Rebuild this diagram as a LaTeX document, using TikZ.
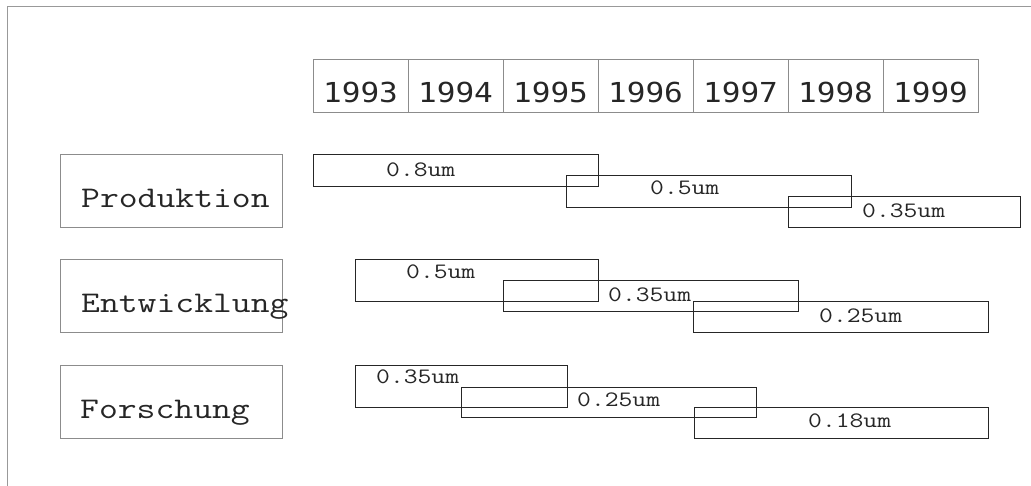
\documentclass[tikz,border=0pt]{standalone}
\usepackage{fontspec}
\newfontfamily\monof[FakeStretch=1.22]{Latin Modern Mono}
\newfontfamily\yearf[FakeStretch=1.13]{DejaVu Sans Mono}
\begin{document}
\begin{tikzpicture}[x=1pt,y=-1pt,
  frameline/.style={draw=black!40, line width=1pt},
  cell/.style={draw=black!45, line width=1pt, minimum width=95pt, minimum height=53pt, anchor=north west, inner sep=0pt, outer sep=0pt},
  yeartext/.style={font=\yearf\fontsize{27.5}{28}\selectfont, text=black!85, inner sep=0pt, anchor=base},
  catbox/.style={draw=black!45, line width=1pt, minimum width=222pt, minimum height=73pt, anchor=north west, inner sep=0pt, outer sep=0pt},
  cattext/.style={font=\monof\fontsize{30}{30}\selectfont, text=black!85, inner sep=0pt, anchor=base west},
  barbox/.style={draw=black!85, line width=1pt, anchor=north west, inner sep=0pt, outer sep=0pt},
  bartext/.style={font=\monof\fontsize{22}{22}\selectfont, text=black!85, inner sep=0pt, anchor=base west}]
\useasboundingbox (0,0) rectangle (1031,486);
% frame
\coordinate (ftl) at (7,7);
\coordinate (ftr) at (1031,7);
\coordinate (fbl) at (7,486);
\draw[frameline] (ftr) -- (ftl) -- (fbl);
% years
\foreach \y [count=\i from 0] in {1993,1994,1995,1996,1997,1998,1999}{
  \node[cell] (c\y) at ({313+95*\i},60) {};
  \node[yeartext] (t\y) at ([yshift=10pt]c\y.south) {\y};
}
% categories
\node[catbox] (prod) at (60,155) {};
\node[cattext] (prodt) at (81,208) {Produktion};
\node[catbox] (entw) at (60,260) {};
\node[cattext] (entwt) at (81,313) {Entwicklung};
\node[catbox] (forsch) at (60,365) {};
\node[cattext] (forscht) at (80,418) {Forschung};
% bars
\foreach \n/\xa/\ya/\xb/\yb/\tx/\ty/\lab in {
  pa/313/155/598/187/386/177/0.8um,
  pb/566/176/851/208/650/195/0.5um,
  pc/788/197/1020/228/862/218/0.35um,
  ea/355/260/598/302/406/279/0.5um,
  eb/503/281/798/312/608/302/0.35um,
  ec/693/302/988/333/819/323/0.25um,
  fa/355/365/567/407/376/384/0.35um,
  fb/461/387/756/417/577/406/0.25um,
  fc/694/407/988/438/808/427/0.18um}{
  \node[barbox, minimum width={(\xb-\xa)*1pt}, minimum height={(\yb-\ya)*1pt}] (\n) at (\xa,\ya) {};
  \node[bartext] (\n t) at (\tx,\ty) {\lab};
}
\end{tikzpicture}
\end{document}
